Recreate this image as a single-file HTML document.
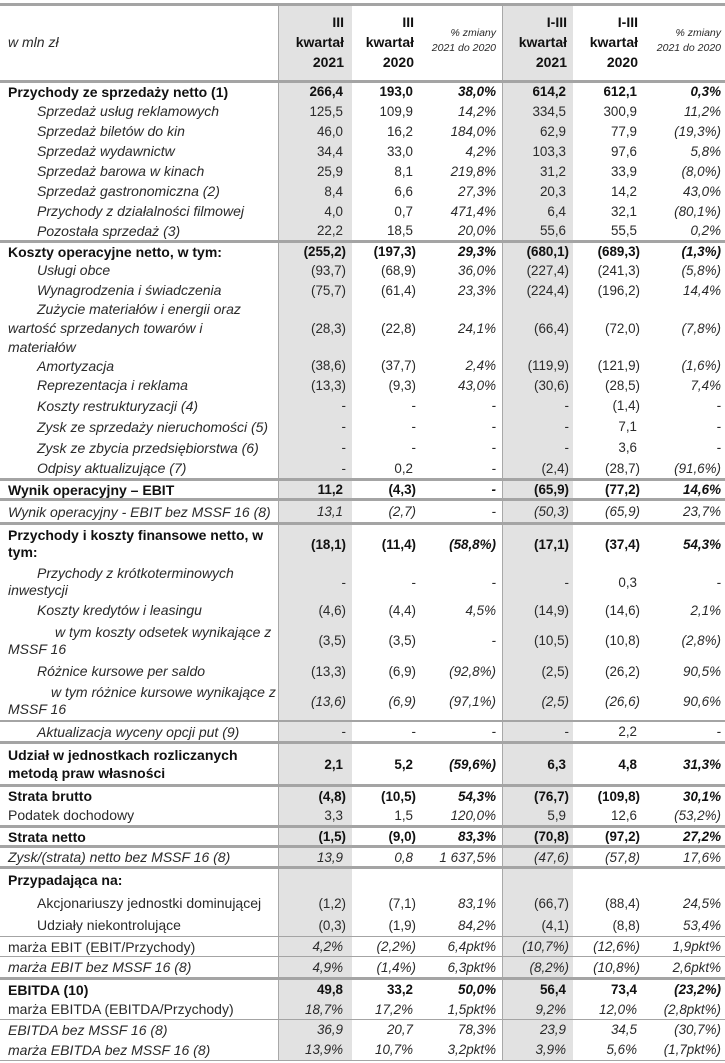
<!DOCTYPE html>
<html><head><meta charset="utf-8">
<style>
body{margin:0;background:#fff;}
#t{position:relative;width:725px;height:1063px;overflow:hidden;font-family:"Liberation Sans",sans-serif;font-size:13.4px;color:#2a2a2a;}
.sh{position:absolute;top:5px;height:1056px;background:#e2e2e2;}
.vl{position:absolute;top:5px;height:1056px;width:1px;background:#a8a8a8;}
.hl{position:absolute;left:0;width:725px;background:#a4a4a4;}
.row{position:absolute;left:0;width:725px;}
.lab{position:absolute;left:8px;top:0;bottom:0;display:flex;flex-direction:column;justify-content:center;white-space:nowrap;font-size:14px;}
.val{position:absolute;top:0;bottom:0;display:flex;align-items:center;white-space:nowrap;}
.b{font-weight:bold;color:#111;}
.i{font-style:italic;}
.hd{position:absolute;text-align:right;font-weight:bold;color:#111;line-height:20px;font-size:14px;}
.hp{position:absolute;text-align:right;font-style:italic;font-size:10.5px;line-height:15px;}
</style></head><body>
<div id="t">
<div class="sh" style="left:279px;width:73px"></div>
<div class="sh" style="left:503px;width:70px"></div>
<div class="vl" style="left:278px"></div>
<div class="vl" style="left:502px"></div>
<div style="position:absolute;left:8px;top:34px;font-style:italic;font-size:14px">w mln zł</div>
<div class="hd" style="right:381px;top:12px">III<br>kwartał<br>2021</div>
<div class="hd" style="right:311px;top:12px">III<br>kwartał<br>2020</div>
<div class="hp" style="right:229px;top:26px">% zmiany<br>2021 do 2020</div>
<div class="hd" style="right:158px;top:12px">I-III<br>kwartał<br>2021</div>
<div class="hd" style="right:87px;top:12px">I-III<br>kwartał<br>2020</div>
<div class="hp" style="right:4px;top:26px">% zmiany<br>2021 do 2020</div>
</div>
<script>
const labels=[
"Przychody ze sprzedaży netto (1)","Sprzedaż usług reklamowych","Sprzedaż biletów do kin","Sprzedaż wydawnictw","Sprzedaż barowa w kinach","Sprzedaż gastronomiczna (2)","Przychody z działalności filmowej","Pozostała sprzedaż (3)",
"Koszty operacyjne netto, w tym:","Usługi obce","Wynagrodzenia i świadczenia","Zużycie materiałów i energii oraz|wartość sprzedanych towarów i|materiałów","Amortyzacja","Reprezentacja i reklama","Koszty restrukturyzacji (4)","Zysk ze sprzedaży nieruchomości (5)","Zysk ze zbycia przedsiębiorstwa (6)","Odpisy aktualizujące (7)",
"Wynik operacyjny – EBIT","Wynik operacyjny - EBIT bez MSSF 16 (8)","Przychody i koszty finansowe netto, w|tym:","Przychody z krótkoterminowych|inwestycji","Koszty kredytów i leasingu","w tym koszty odsetek wynikające z|MSSF 16","Różnice kursowe per saldo","w tym różnice kursowe wynikające z|MSSF 16","Aktualizacja wyceny opcji put (9)",
"Udział w jednostkach rozliczanych|metodą praw własności","Strata brutto","Podatek dochodowy","Strata netto","Zysk/(strata) netto bez MSSF 16 (8)","Przypadająca na:","Akcjonariuszy jednostki dominującej","Udziały niekontrolujące","marża EBIT (EBIT/Przychody)","marża EBIT bez MSSF 16 (8)","EBITDA (10)","marża EBITDA (EBITDA/Przychody)","EBITDA bez MSSF 16 (8)","marża EBITDA bez MSSF 16 (8)"];
const q3_2021=["266,4","125,5","46,0","34,4","25,9","8,4","4,0","22,2","(255,2)","(93,7)","(75,7)","(28,3)","(38,6)","(13,3)","-","-","-","-","11,2","13,1","(18,1)","-","(4,6)","(3,5)","(13,3)","(13,6)","-","2,1","(4,8)","3,3","(1,5)","13,9","","(1,2)","(0,3)","4,2%","4,9%","49,8","18,7%","36,9","13,9%"];
const q3_2020=["193,0","109,9","16,2","33,0","8,1","6,6","0,7","18,5","(197,3)","(68,9)","(61,4)","(22,8)","(37,7)","(9,3)","-","-","-","0,2","(4,3)","(2,7)","(11,4)","-","(4,4)","(3,5)","(6,9)","(6,9)","-","5,2","(10,5)","1,5","(9,0)","0,8","","(7,1)","(1,9)","(2,2%)","(1,4%)","33,2","17,2%","20,7","10,7%"];
const chgQ3=["38,0%","14,2%","184,0%","4,2%","219,8%","27,3%","471,4%","20,0%","29,3%","36,0%","23,3%","24,1%","2,4%","43,0%","-","-","-","-","-","-","(58,8%)","-","4,5%","-","(92,8%)","(97,1%)","-","(59,6%)","54,3%","120,0%","83,3%","1 637,5%","","83,1%","84,2%","6,4pkt%","6,3pkt%","50,0%","1,5pkt%","78,3%","3,2pkt%"];
const ytd_2021=["614,2","334,5","62,9","103,3","31,2","20,3","6,4","55,6","(680,1)","(227,4)","(224,4)","(66,4)","(119,9)","(30,6)","-","-","-","(2,4)","(65,9)","(50,3)","(17,1)","-","(14,9)","(10,5)","(2,5)","(2,5)","-","6,3","(76,7)","5,9","(70,8)","(47,6)","","(66,7)","(4,1)","(10,7%)","(8,2%)","56,4","9,2%","23,9","3,9%"];
const ytd_2020=["612,1","300,9","77,9","97,6","33,9","14,2","32,1","55,5","(689,3)","(241,3)","(196,2)","(72,0)","(121,9)","(28,5)","(1,4)","7,1","3,6","(28,7)","(77,2)","(65,9)","(37,4)","0,3","(14,6)","(10,8)","(26,2)","(26,6)","2,2","4,8","(109,8)","12,6","(97,2)","(57,8)","","(88,4)","(8,8)","(12,6%)","(10,8%)","73,4","12,0%","34,5","5,6%"];
const chgYtd=["0,3%","11,2%","(19,3%)","5,8%","(8,0%)","43,0%","(80,1%)","0,2%","(1,3%)","(5,8%)","14,4%","(7,8%)","(1,6%)","7,4%","-","-","-","(91,6%)","14,6%","23,7%","54,3%","-","2,1%","(2,8%)","90,5%","90,6%","-","31,3%","30,1%","(53,2%)","27,2%","17,6%","","24,5%","53,4%","1,9pkt%","2,6pkt%","(23,2%)","(2,8pkt%)","(30,7%)","(1,7pkt%)"];
// layout (not data): top, height, line-height, style, indent
const L=[[82,19,20,"B",0],[101,20,20,"I",29],[121,20,20,"I",29],[141,20,20,"I",29],[161,20,20,"I",29],[181,20,20,"I",29],[201,20,20,"I",29],[221,19,20,"I",29],
[243,17,20,"B",0],[260,20,20,"I",29],[280,20,20,"I",29],[300,56,19,"I",29],[356,19,20,"I",29],[375,20,20,"I",29],[395,21,20,"I",29],[416,21,20,"I",29],[437,21,20,"I",29],[458,20,20,"I",29],
[481,17,20,"B",0],[501,21,20,"IV",0],[525,38,17,"B",0],[564,36,17,"I",29],[600,20,20,"I",29],[620,41,17,"I",47],[661,20,20,"I",29],[681,40,17,"IV",43],[722,19,20,"I",29],
[744,40,18,"B",0],[787,18,20,"B",0],[805,20,20,"P",0],[828,17,20,"B",0],[848,18,20,"IV",0],[869,22,20,"B",0],[892,22,20,"P",29],[914,22,20,"P",29],[937,19,20,"PV",0],[957,20,20,"IV",0],[980,19,20,"B",0],[999,20,20,"PV",0],[1020,19,20,"IV",0],[1039,21,20,"IV",0]];
const lines=[[3,3],[80,3],[240,3],[478,3],[498,3],[522,3],[720,2],[741,3],[784,3],[825,3],[845,3],[866,3],[936,1],[956,1],[977,3],[1019,1],[1060,1]];
const rights=[379,309,229,156,85,4];
const cols=[q3_2021,q3_2020,chgQ3,ytd_2021,ytd_2020,chgYtd];
const T=document.getElementById('t');
lines.forEach((l,k)=>{const d=document.createElement('div');d.className='hl';d.style.top=l[0]+'px';d.style.height=l[1]+'px';


T.appendChild(d);});
labels.forEach((lab,r)=>{
 const g=L[r];const row=document.createElement('div');row.className='row';row.style.top=g[0]+'px';row.style.height=g[1]+'px';
 
 
 const st=g[3];const bold=st==='B';const ital=st[0]==='I';const vIt=st.indexOf('V')>=0;
 const ld=document.createElement('div');ld.className='lab'+(bold?' b':'')+(ital?' i':'');ld.style.lineHeight=g[2]+'px';
 
 
 lab.split('|').forEach((p,j)=>{const s=document.createElement('div');s.textContent=p;if(j===0)s.style.paddingLeft=g[4]+'px';ld.appendChild(s);});
 row.appendChild(ld);
 cols.forEach((c,ci)=>{const v=c[r];if(!v)return;const d=document.createElement('div');
  const pct=(ci===2||ci===5);
  d.className='val'+(bold?' b':'')+((pct||vIt)?' i':'');
  let rr=rights[ci];if(ci!==2&&ci!==5&&v[0]!=='('&&v!=='-')rr+=3;
  d.style.right=rr+'px';d.textContent=v;
  
  
  row.appendChild(d);});
 T.appendChild(row);
});
</script>
</body></html>
